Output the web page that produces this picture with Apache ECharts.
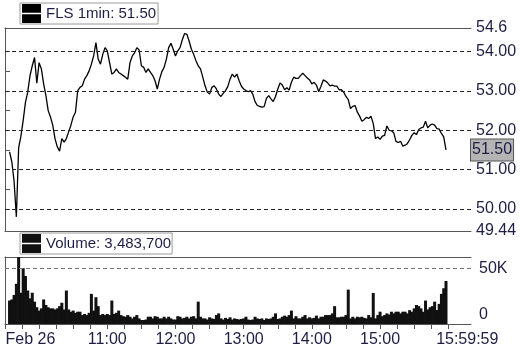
<!DOCTYPE html>
<html><head><meta charset="utf-8">
<script src="https://cdn.jsdelivr.net/npm/echarts@6/dist/echarts.min.js"></script>
<style>html,body{margin:0;padding:0;background:#fff}#c{width:520px;height:352px}</style>
</head><body><div id="c"></div>
<script>
// ---- data (minutes after 9:30, 2-minute samples) ----
const startMinute = 4;
const stepMinutes = 2;
const prices = [
51.45,51.20,50.70,49.80,51.55,51.85,52.25,52.71,52.97,53.39,
53.64,53.85,53.20,53.72,53.56,53.18,52.88,52.50,52.34,52.13,
51.79,51.58,51.47,51.79,51.70,51.79,51.96,52.13,52.34,52.46,
53.01,53.09,53.13,53.30,53.39,53.51,53.68,53.89,54.23,53.81,
53.68,53.93,54.10,54.02,53.72,53.43,53.47,53.56,53.47,53.43,
53.39,53.35,53.30,53.72,53.89,53.97,54.10,54.04,53.64,53.60,
53.47,53.56,53.47,53.39,53.26,53.05,53.30,53.49,53.60,53.81,
54.10,54.21,54.06,53.89,54.02,54.10,54.30,54.46,54.44,54.27,
54.06,53.93,53.77,53.64,53.56,53.35,53.13,52.97,52.92,53.09,
53.13,53.05,52.92,52.86,52.94,53.01,53.11,53.30,53.43,53.35,
53.43,53.26,53.12,53.05,53.01,52.98,53.01,52.92,52.73,52.63,
52.61,52.59,52.60,52.81,52.88,52.80,52.73,52.86,53.05,53.20,
53.15,53.03,53.08,53.02,53.22,53.35,53.32,53.32,53.39,53.45,
53.39,53.33,53.28,53.18,53.22,53.15,52.98,53.12,53.28,53.25,
53.20,53.13,53.15,53.12,53.12,53.03,53.03,52.97,52.86,52.78,
52.55,52.61,52.63,52.46,52.36,52.23,52.27,52.33,52.30,52.36,
52.17,51.79,51.83,51.77,51.85,51.87,52.11,52.00,51.99,51.94,
51.72,51.69,51.72,51.60,51.62,51.66,51.76,51.87,51.94,51.89,
52.02,52.06,52.08,52.23,52.06,52.13,52.16,52.13,52.04,52.03,
51.92,51.83,51.50
];
const volumesK = [
21,22,26,36,60,28,50,43,30,23,
28,20,15,12,14,22,17,15,14,14,
13,14,16,19,13,30,13,11,12,10,
11,11,8,9,8,10,27,12,24,16,
8,9,8,9,8,21,9,10,12,8,
7,6.5,8,6.5,5,6.5,8,5,3.6,3.6,
4,6.5,6.5,5,7,6.5,5,5,6.5,5,
6.5,5,4,4,7,6.5,5,5.5,6.5,5,
6.5,7,5,20,6.5,5,5,4,6,5,
4.5,8,9.5,5,4,5.5,4.5,6,4,5,
4.5,4,4.5,5,6.5,4,3.6,4,6.5,5,
4.5,5,3.6,5,4.5,5,6.5,9.5,4.5,5,
6.5,7.5,6.5,8,12,5,7,5,5,6.5,
8,5,6,5,5.5,7.5,5,6.5,6.5,8,
8,8,9.5,16,6,6,6.5,6.5,8,30.8,
5,6.5,5,6.5,6,6.5,5.5,5,8,6,
27.8,5,8,11,7,8,9.5,8.5,11,9.5,
11,11,9.5,11,11,9.5,12.4,11,14,17,
16,14,11,21,13,15,16,20,12.5,18,
27,32,38.5
];
const priceLabelValues = [49.44, 50, 51, 52, 53, 54, 54.6];
const priceTickValues = [49.44, 50, 50.5, 51, 51.5, 52, 52.5, 53, 53.5, 54, 54.6];
const priceGridLevels = [50, 51, 52, 53, 54];
const volumeLabelValues = [0, 50];
const volumeGridLevels = [50];
const timeTickMinutes = [0,15,30,45,60,75,90,105,120,135,150,165,180,195,210,225,240,255,270,285,300,315,330,345,360,375,390];
const timeLabelMinutes = [0, 90, 150, 210, 270, 330, 390];
const timeLabels = ['Feb 26', '11:00', '12:00', '13:00', '14:00', '15:00', '15:59:59'];
const lastPrice = 51.50;
const priceName = 'FLS 1min';
const volumeName = 'Volume';
const totalVolume = '3,483,700';

// ---- chart ----
const FONT = '"Liberation Sans", Arial, Helvetica, sans-serif';
const TXT = '#1e1e46';
const AX = '#555';
const priceData = prices.map((p, i) => [startMinute + i * stepMinutes, p]);
const volumeData = volumesK.map((v, i) => [startMinute + i * stepMinutes, v]);
const icon = 'path://M0,0H20V9.2H0ZM0,10.8H20V20H0Z';

const chart = echarts.init(document.getElementById('c'), null, {renderer: 'canvas'});
const baseX = {type: 'value', min: 0, max: 410, splitLine: {show: false}, axisTick: {show: false}, axisLabel: {show: false},
  axisLine: {show: true, onZero: false, lineStyle: {color: AX, width: 1}}};
chart.setOption({
  animation: false,
  textStyle: {fontFamily: FONT},
  grid: [
    {left: 5, right: 49, top: 28, height: 203},
    {left: 5, right: 49, top: 257, height: 67}
  ],
  legend: [
    {data: [priceName], left: 20, top: 3, icon: icon, itemWidth: 19, itemHeight: 19, selectedMode: false,
     borderColor: '#9a9a9a', borderWidth: 1, padding: [1, 2, 1, 2], backgroundColor: '#fff',
     formatter: () => priceName + ': ' + lastPrice.toFixed(2), textStyle: {fontSize: 15, color: TXT, fontFamily: FONT}},
    {data: [volumeName], left: 20, top: 233, icon: icon, itemWidth: 19, itemHeight: 19, selectedMode: false,
     borderColor: '#9a9a9a', borderWidth: 1, padding: [1, 1, 1, 2], backgroundColor: '#fff',
     formatter: () => volumeName + ': ' + totalVolume, textStyle: {fontSize: 15, color: TXT, fontFamily: FONT}}
  ],
  xAxis: [
    Object.assign({}, baseX, {gridIndex: 0, position: 'bottom'}),
    Object.assign({}, baseX, {gridIndex: 0, position: 'top'}),
    Object.assign({}, baseX, {gridIndex: 1, position: 'top'}),
    Object.assign({}, baseX, {gridIndex: 1, position: 'bottom',
      axisTick: {show: true, customValues: timeTickMinutes, length: 5, lineStyle: {color: AX}},
      axisLabel: {show: true, customValues: timeLabelMinutes, margin: 8, fontSize: 16, color: TXT, fontFamily: FONT,
        formatter: (v) => {
          const t = timeLabels[timeLabelMinutes.indexOf(Math.round(v))];
          if (Math.round(v) === timeLabelMinutes[0]) return '{l|' + t + '}';
          if (Math.round(v) === timeLabelMinutes[timeLabelMinutes.length - 1]) return '{r|' + t + '}';
          return t;
        },
        rich: {l: {padding: [0, 0, 0, 51], fontSize: 16, color: TXT, fontFamily: FONT},
               r: {padding: [0, 0, 0, 38], fontSize: 16, color: TXT, fontFamily: FONT}}}})
  ],
  yAxis: [
    {gridIndex: 0, type: 'value', position: 'right', min: 49.44, max: 54.6, splitLine: {show: false},
     axisLine: {show: true, lineStyle: {color: AX}},
     axisTick: {show: true, customValues: priceTickValues, length: 5, lineStyle: {color: AX}},
     axisLabel: {customValues: priceLabelValues, margin: 5, fontSize: 16, color: TXT, fontFamily: FONT,
       formatter: (v) => (Math.abs(v - 54.6) < 1e-6 ? '54.6' : Math.abs(v - 49.44) < 1e-6 ? '49.44' : v.toFixed(2))}},
    {gridIndex: 1, type: 'value', position: 'right', min: 0, max: 60, splitLine: {show: false},
     axisLine: {show: true, lineStyle: {color: AX}}, axisTick: {show: false},
     axisLabel: {customValues: volumeLabelValues, margin: 8, fontSize: 16, color: TXT, fontFamily: FONT,
       formatter: (v) => (v === 0 ? '{z|0}' : v + 'K'),
       rich: {z: {padding: [0, 0, 18, 0], fontSize: 16, color: TXT, fontFamily: FONT}}}}
  ],
  series: [
    {name: priceName, type: 'line', xAxisIndex: 0, yAxisIndex: 0, data: priceData, showSymbol: false,
     lineStyle: {color: '#000', width: 1.3}, itemStyle: {color: '#000'},
     markLine: {silent: true, symbol: 'none', animation: false,
       data: priceGridLevels.map(v => ({yAxis: v, label: {show: false}, lineStyle: {type: [4, 3], color: '#222', width: 1}}))
         .concat([{yAxis: lastPrice, lineStyle: {color: 'rgba(0,0,0,0)', width: 1},
           label: {show: true, position: 'end', distance: 0, formatter: lastPrice.toFixed(2), fontSize: 16, color: TXT,
             fontFamily: FONT, backgroundColor: '#b4b4b4', borderColor: '#555', borderWidth: 1, padding: [3, 1, 2, 1]}}])}},
    {name: volumeName, type: 'bar', xAxisIndex: 3, yAxisIndex: 1, data: volumeData, barWidth: 3, barGap: '-100%',
     itemStyle: {color: '#111'},
     markLine: {silent: true, symbol: 'none', animation: false, label: {show: false},
       data: volumeGridLevels.map(v => ({yAxis: v})), lineStyle: {type: [4, 3], color: '#777', width: 1}}}
  ]
});
</script>
</body></html>
